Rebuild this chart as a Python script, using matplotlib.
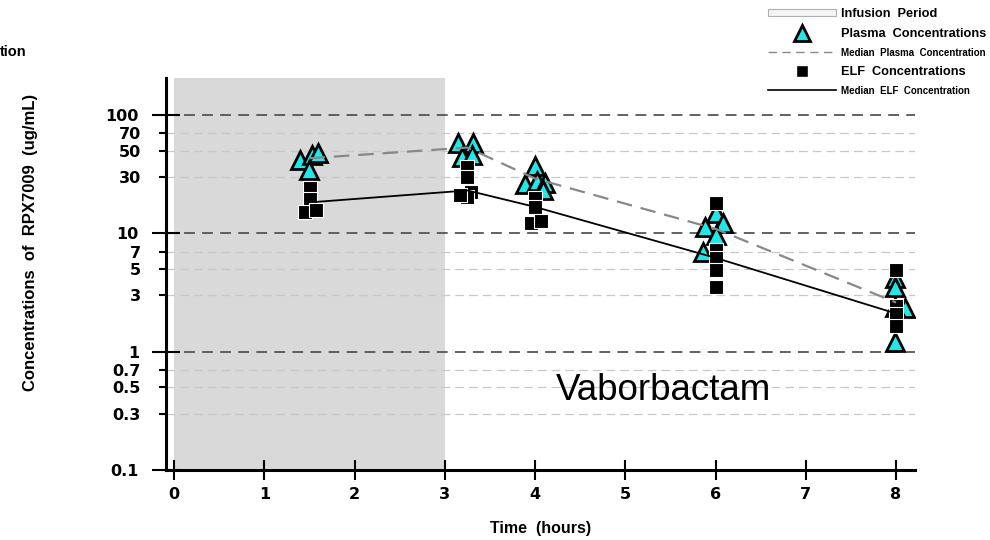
import matplotlib
matplotlib.use('Agg')
import matplotlib.pyplot as plt
from matplotlib.lines import Line2D
from matplotlib.patches import Patch
from matplotlib.ticker import FixedLocator

plt.rcParams['font.family'] = ['Liberation Sans', 'DejaVu Sans']

# plasma concentrations (triangles)
plasma_t = [1.40, 1.53, 1.60, 1.50,
            3.15, 3.31, 3.19, 3.30,
            4.00, 3.89, 4.02, 4.11, 4.09,
            6.00, 5.88, 6.08, 6.00, 5.86,
            7.99, 7.99, 8.10, 7.99, 7.99]
plasma_c = [41.7, 45.9, 47.7, 34.3,
            58.0, 58.0, 44.2, 45.9,
            37.1, 26.1, 27.7, 26.6, 23.2,
            14.8, 11.3, 12.2, 9.7, 6.9,
            4.2, 3.5, 2.35, 2.4, 1.2]

# ELF concentrations (squares)
elf_t = [1.51, 1.51, 1.45, 1.57,
         3.25, 3.25, 3.29, 3.25, 3.17,
         4.00, 4.00, 3.95, 4.07,
         6.00, 6.00, 6.00, 6.00, 6.00,
         8.00, 8.00, 8.00, 8.00]
elf_c = [24.2, 19.5, 15.1, 15.7,
         36.3, 29.9, 22.3, 20.3, 21.0,
         19.9, 16.7, 12.2, 12.7,
         18.0, 7.2, 6.2, 4.9, 3.5,
         4.9, 2.43, 2.08, 1.64]

# medians
plasma_med_t = [1.50, 3.25, 4.00, 6.00, 8.00]
plasma_med = [43.0, 53.0, 29.0, 10.9, 2.6]
elf_med_t = [1.57, 3.25, 4.00, 6.00, 8.00]
elf_med = [18.4, 23.0, 16.7, 6.2, 2.1]

major_y = [0.1, 1, 10, 100]
major_labels = ['0.1', '1', '10', '100']
minor_y = [0.3, 0.5, 0.7, 3, 5, 7, 30, 50, 70]
minor_labels = ['0.3', '0.5', '0.7', '3', '5', '7', '30', '50', '70']
x_ticks = [0, 1, 2, 3, 4, 5, 6, 7, 8]

tickfont = {'family': 'DejaVu Sans', 'weight': 'bold', 'size': 11.5}

fig = plt.figure(figsize=(9.9, 5.4), dpi=100)
ax = fig.add_axes([166/990, 1-470/540, 749/990, 392/540])

ax.axvspan(0, 3, color='#d9d9d9', zorder=0, lw=0)

for v in major_y[1:]:
    ax.axhline(v, color='#555555', lw=1.3, dashes=(6, 4), zorder=1)
for v in minor_y:
    ax.axhline(v, color='#c8c8c8', lw=0.9, dashes=(7, 4), zorder=1)

ax.plot(plasma_t, plasma_c, ls='none', marker='^', ms=13, mfc='#20e8e8',
        mec='black', mew=2, zorder=3)
ax.plot(elf_t, elf_c, ls='none', marker='s', ms=10, mfc='black',
        mec='white', mew=0.8, zorder=4)
ax.plot(plasma_med_t, plasma_med, color='#888888', lw=1.6, dashes=(7, 4), zorder=5)
ax.plot(elf_med_t, elf_med, color='black', lw=1.3, zorder=5)

ax.set_yscale('log')
ax.set_xlim(-0.089, 8.21)
ax.set_ylim(0.1, 205)

ax.yaxis.set_major_locator(FixedLocator(major_y))
ax.yaxis.set_minor_locator(FixedLocator(minor_y))
ax.set_yticklabels(major_labels, fontdict=tickfont)
ax.set_yticklabels(minor_labels, minor=True, fontdict=tickfont)
ax.set_xticks(x_ticks)
ax.set_xticklabels([str(t) for t in x_ticks], fontdict=tickfont)

for side in ['top', 'right']:
    ax.spines[side].set_visible(False)
for side in ['left', 'bottom']:
    ax.spines[side].set_linewidth(2.2)

ax.tick_params(axis='y', which='major', direction='inout', length=20, width=1.5, pad=9.5)
ax.tick_params(axis='y', which='minor', direction='out', length=5, width=1.5, pad=13.2)
ax.tick_params(axis='x', which='major', direction='inout', length=14, width=1.5, pad=5)

ax.set_xlabel('Time  (hours)', fontsize=11.5, fontweight='bold', labelpad=14)
ax.set_ylabel('Concentrations  of  RPX7009  (ug/mL)', fontsize=12, fontweight='bold')
ax.yaxis.set_label_coords(-0.171, 0.58)

ax.text(5.42, 0.47, 'Vaborbactam', fontsize=26.5, ha='center', va='center')

handles = [
    Patch(facecolor='#f4f4f4', edgecolor='#b0b0b0', lw=0.8),
    Line2D([], [], ls='none', marker='^', ms=11, mfc='#20e8e8', mec='black', mew=2),
    Line2D([], [], color='#888888', lw=1.0, dashes=(6, 4)),
    Line2D([], [], ls='none', marker='s', ms=9, mfc='black', mec='white'),
    Line2D([], [], color='black', lw=1.2),
]
labels = ['Infusion  Period', 'Plasma  Concentrations', 'Median  Plasma  Concentration',
          'ELF  Concentrations', 'Median  ELF  Concentration']
leg = fig.legend(handles, labels, loc='upper left', bbox_to_anchor=(762/990, 1-2/540),
                 frameon=False, handlelength=5.3, handletextpad=0.35,
                 labelspacing=0.62, borderaxespad=0.1, handleheight=0.5,
                 prop={'weight': 'bold', 'size': 9.2})
for i, t in enumerate(leg.get_texts()):
    if i in (2, 4):
        t.set_fontsize(7.0)

fig.text(0.0, 1-52/540, 'tion', fontsize=10.5, fontweight='bold', ha='left', va='center')

fig.savefig('out.png', dpi=100)
